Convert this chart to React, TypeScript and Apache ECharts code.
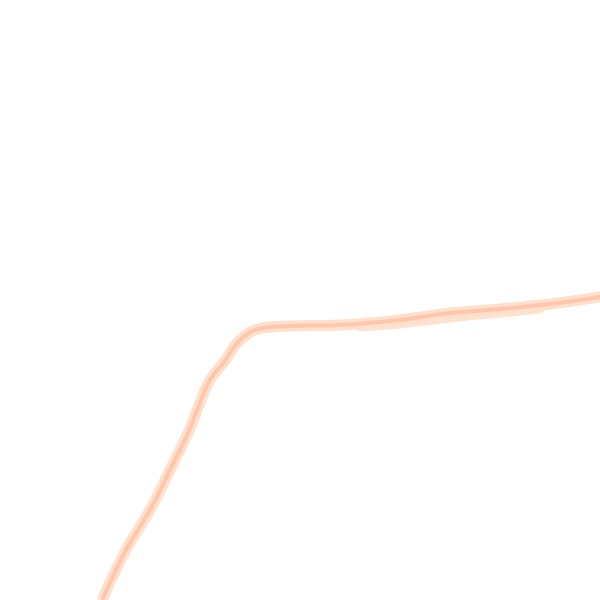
import React, { useEffect, useRef } from "react";
import * as echarts from "echarts";

const xValues = [103, 126, 150, 170, 188, 199, 210, 224, 240, 258, 290, 340, 400, 450, 500, 550, 600];
const yValues = [598, 550, 510, 470, 433, 405, 380, 362, 340, 329, 326, 325, 320, 313, 309, 304, 297];

const spreadX = [360, 400, 450, 500, 540];
const spreadY = [327, 324, 318, 313, 309];

export default function App() {
  const ref = useRef<HTMLDivElement>(null);
  useEffect(() => {
    document.body.style.margin = "0";
    if (!ref.current) return;
    const chart = echarts.init(ref.current, null, { renderer: "svg" });
    const data = xValues.map((x, i) => [x, yValues[i]]);
    const spread = spreadX.map((x, i) => [x, spreadY[i]]);
    chart.setOption({
      animation: false,
      backgroundColor: "#ffffff",
      grid: { left: 0, right: 0, top: 0, bottom: 0 },
      xAxis: { type: "value", min: 0, max: 600, show: false },
      yAxis: { type: "value", min: 0, max: 600, inverse: true, show: false },
      series: [
        {
          type: "line",
          data: spread,
          smooth: 0.4,
          symbol: "none",
          lineStyle: { width: 9, color: "#ffe2d0", cap: "round" },
        },
        {
          type: "line",
          data,
          smooth: 0.4,
          symbol: "none",
          lineStyle: { width: 11, color: "#ffe0cc", cap: "round" },
        },
        {
          type: "line",
          data,
          smooth: 0.4,
          symbol: "none",
          lineStyle: { width: 4, color: "#ffc6ab", cap: "round" },
        },
      ],
    });
    return () => chart.dispose();
  }, []);
  return <div ref={ref} style={{ width: 600, height: 600 }} />;
}
